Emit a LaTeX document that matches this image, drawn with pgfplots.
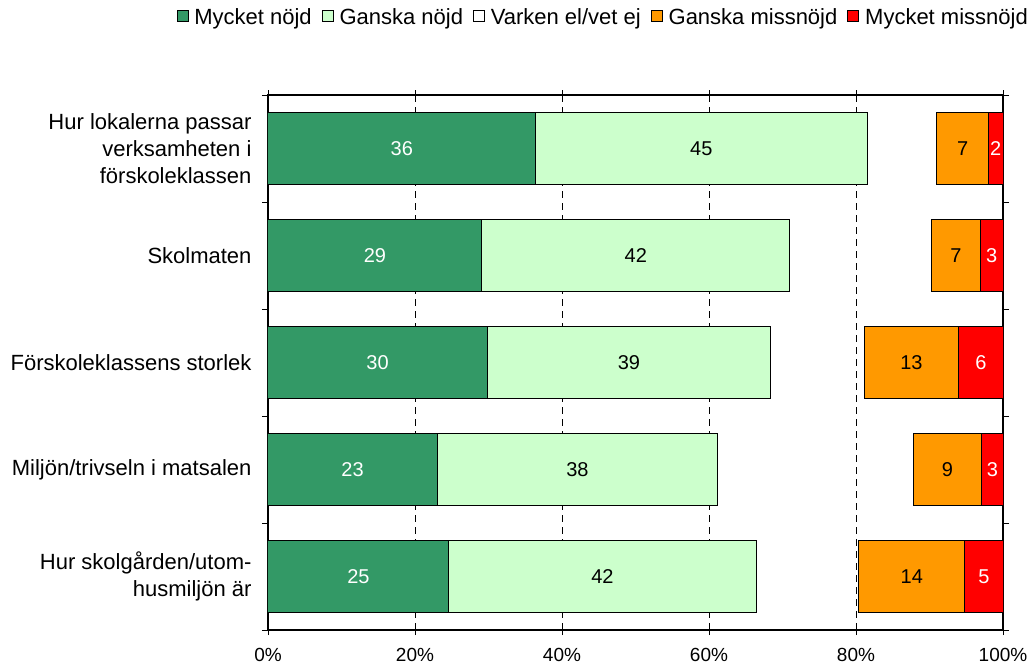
\documentclass[border=0pt]{standalone}
\usepackage{fontspec}
\setmainfont{Liberation Sans}
\usepackage{pgfplots}
\pgfplotsset{compat=1.18}
\usepackage{pgfplotstable}

\definecolor{darkgr}{RGB}{51,153,102}
\definecolor{lightgr}{RGB}{204,255,204}
\definecolor{orng}{RGB}{255,153,0}
\definecolor{rd}{RGB}{255,0,0}

% share of answers in percent, rows from top to bottom
\pgfplotstableread{
row dark light neutral orange red
0 36.4 45.1 9.5 7.0 2.0
1 29.1 41.9 19.3 6.6 3.1
2 29.8 38.6 12.7 12.9 6.0
3 23.0 38.2 26.6 9.3 2.9
4 24.6 41.8 14.0 14.4 5.2
}\svar

\pgfplotsset{
  sqlegend/.style={legend image code/.code={\draw[##1,line width=0.8pt] (0pt,-5pt) rectangle (11pt,6pt);}},
  % value label in the middle of each segment
  seglabel/.style={point meta=explicit,
    nodes near coords={\pgfmathprintnumber[fixed,precision=0]{\pgfplotspointmeta}},
    nodes near coords align={center},
    every node near coord/.append style={font=\fontsize{20}{24}\selectfont, anchor=center, #1}},
}

\begin{document}
\begin{tikzpicture}[font=\fontsize{22}{27}\selectfont]
\begin{axis}[
  scale only axis, width=735pt, height=535pt,
  xbar stacked, bar width=72pt,
  xmin=0, xmax=100, ymin=-0.5, ymax=4.5, y dir=reverse,
  /pgf/number format/assume math mode=true,
  xtick={0,20,40,60,80,100},
  xticklabels={0\%,20\%,40\%,60\%,80\%,100\%},
  x tick label style={font=\fontsize{19}{23}\selectfont, yshift=-10pt},
  ytick={0,1,2,3,4},
  yticklabels={{Hur lokalerna passar\\verksamheten i\\förskoleklassen},
    {Skolmaten},{Förskoleklassens storlek},{Miljön/trivseln i matsalen},
    {Hur skolgården/utom-\\husmiljön är}},
  y tick label style={align=right, xshift=-8pt},
  minor ytick={-0.5,0.5,1.5,2.5,3.5,4.5},
  major y tick style={draw=none},
  tick align=outside, major tick length=5pt, minor tick length=6pt,
  tick style={black, line width=0.8pt},
  xmajorgrids, grid style={black, line width=0.6pt, dash pattern=on 7pt off 5pt},
  axis line style={black, line width=1.2pt},
  legend columns=5,
  legend style={draw=none, fill=none, at={(0.456,1.146)}, anchor=center,
    font=\fontsize{22}{27}\selectfont,
    /tikz/every even column/.append style={column sep=8pt},
    /tikz/every odd column/.append style={column sep=4pt}},
]
\addplot[sqlegend, seglabel={white}, fill=darkgr, draw=black, line width=1pt]
  table[x=dark, y=row, meta=dark] {\svar};
\addlegendentry{Mycket nöjd}
\addplot[sqlegend, seglabel={black}, fill=lightgr, draw=black, line width=1pt]
  table[x=light, y=row, meta=light] {\svar};
\addlegendentry{Ganska nöjd}
\addplot[sqlegend, fill=none, draw=none] table[x=neutral, y=row] {\svar};
\addlegendentry{Varken el/vet ej}
\addplot[sqlegend, seglabel={black}, fill=orng, draw=black, line width=1pt]
  table[x=orange, y=row, meta=orange] {\svar};
\addlegendentry{Ganska missnöjd}
\addplot[sqlegend, seglabel={white}, fill=rd, draw=black, line width=1pt]
  table[x=red, y=row, meta=red] {\svar};
\addlegendentry{Mycket missnöjd}
\end{axis}
\pgfresetboundingbox
\path[use as bounding box] ([shift={(-268pt,-36pt)}]current axis.south west) rectangle ++(1033pt,666pt);
\end{tikzpicture}
\end{document}
